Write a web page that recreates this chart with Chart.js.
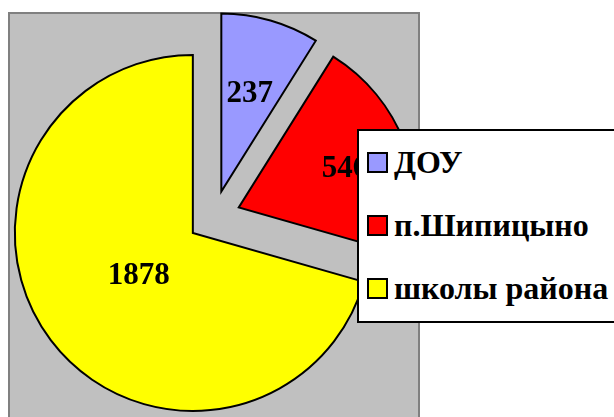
<!DOCTYPE html>
<html>
<head>
<meta charset="utf-8">
<script src="https://cdn.jsdelivr.net/npm/chart.js@4/dist/chart.umd.min.js"></script>
<style>
    body { margin: 0; background: #fff; }
    #wrap { position: relative; width: 614px; height: 417px; overflow: hidden; }
    #fundo {
        position: absolute; left: 8px; top: 12px; width: 408px; height: 420px;
        background: #c0c0c0; border: 2px solid #808080;
    }
    #grafico { position: absolute; left: 0; top: 0; }
    #legenda {
        position: absolute; left: 357px; top: 129px; width: 300px; height: 190px;
        background: #fff; border: 2px solid #000;
        font-family: "Liberation Serif", "Times New Roman", serif; font-weight: bold; font-size: 32px;
    }
    .item { position: absolute; left: 8px; height: 32px; line-height: 32px; white-space: nowrap; display: flex; align-items: center; }
    .cor { display: inline-block; width: 17px; height: 17px; border: 2px solid #000; margin-right: 6px; flex: none; }
</style>
</head>
<body>
<div id="wrap">
    <div id="fundo"></div>
    <canvas id="grafico" width="614" height="417"></canvas>
    <div id="legenda"></div>
</div>
<script>
// Dados do gráfico
const categorias = ['ДОУ', 'п.Шипицыно', 'школы района'];
const valores = [237, 546, 1878];
const cores = ['#9999ff', '#ff0000', '#ffff00'];

// Deslocamento das fatias (explodido) e posição dos rótulos
const DESLOCAMENTO = 26.5;
const POS_ROTULO = [0.58, 0.64, 0.38];

// Plugin que afasta cada fatia do centro ao longo da bissetriz
const pluginExplodir = {
    id: 'explodir',
    afterDatasetUpdate(chart, args) {
        const meta = chart.getDatasetMeta(args.index);
        meta.data.forEach((arco) => {
            const meio = (arco.startAngle + arco.endAngle) / 2;
            arco.x += Math.cos(meio) * DESLOCAMENTO;
            arco.y += Math.sin(meio) * DESLOCAMENTO;
        });
    }
};

// Plugin que escreve os valores dentro das fatias
const pluginRotulos = {
    id: 'rotulos',
    afterDatasetsDraw(chart) {
        const ctx = chart.ctx;
        const meta = chart.getDatasetMeta(0);
        ctx.save();
        ctx.font = 'bold 31px "Liberation Serif", "Times New Roman", serif';
        ctx.fillStyle = '#000';
        ctx.textAlign = 'center';
        ctx.textBaseline = 'middle';
        meta.data.forEach((arco, i) => {
            const meio = (arco.startAngle + arco.endAngle) / 2;
            const r = arco.outerRadius * POS_ROTULO[i];
            ctx.fillText(String(valores[i]), arco.x + Math.cos(meio) * r, arco.y + Math.sin(meio) * r + 2);
        });
        ctx.restore();
    }
};

// Função para montar a legenda ao lado do gráfico
function criarLegenda() {
    const legenda = document.getElementById('legenda');
    categorias.forEach((nome, i) => {
        const item = document.createElement('div');
        item.className = 'item';
        item.style.top = (15 + i * 63) + 'px';
        item.innerHTML = '<span class="cor" style="background:' + cores[i] + '"></span><span>' + nome + '</span>';
        legenda.appendChild(item);
    });
}

const ctx = document.getElementById('grafico').getContext('2d');
new Chart(ctx, {
    type: 'pie',
    data: {
        labels: categorias,
        datasets: [{
            data: valores,
            backgroundColor: cores,
            borderColor: '#000',
            borderWidth: 2,
            borderJoinStyle: 'miter'
        }]
    },
    options: {
        responsive: false,
        animation: false,
        radius: 178,
        layout: { padding: { left: 0, right: 186, top: 17, bottom: 0 } },
        plugins: {
            legend: { display: false },
            tooltip: { enabled: false }
        }
    },
    plugins: [pluginExplodir, pluginRotulos]
});

criarLegenda();
</script>
</body>
</html>
